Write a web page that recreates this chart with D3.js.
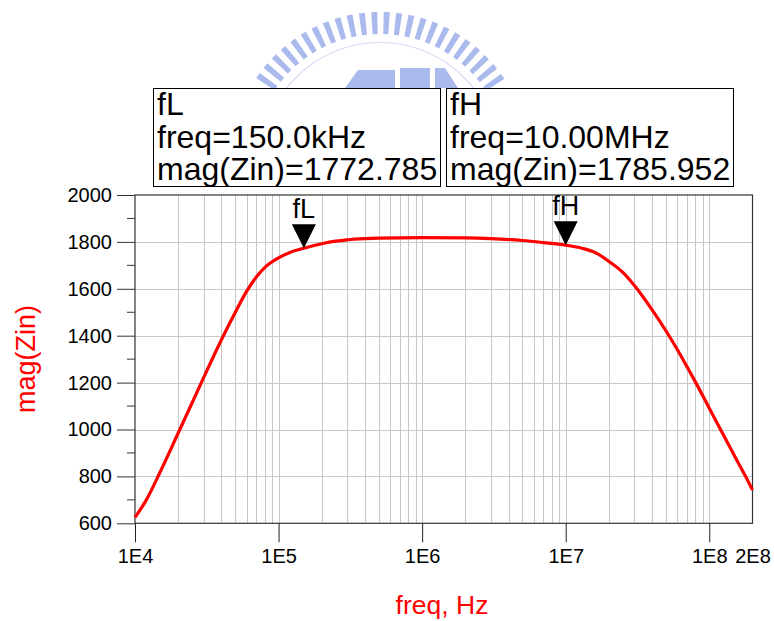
<!DOCTYPE html>
<html>
<head>
<meta charset="utf-8">
<script src="https://cdn.jsdelivr.net/npm/d3@7"></script>
<style>
  body { margin: 0; background: #fff; }
  svg { font-family: "Liberation Sans", Arial, sans-serif; }
</style>
</head>
<body>
<div id="chart"></div>
<script>
const width = 774;
const height = 621;

// curve
const freqs = [1e4, 1.2e4, 1.5e4, 2e4, 2.5e4, 3e4, 4e4, 5e4, 6e4, 7e4, 8e4, 1e5, 1.2e5, 1.5e5, 2e5, 2.5e5, 3e5, 4e5, 5e5,
	1e6, 2e6, 3e6, 5e6, 7e6, 1e7, 1.3e7, 1.6e7, 2e7, 2.5e7, 3e7, 4e7, 5e7, 6e7, 7e7, 8e7, 1e8, 1.2e8, 1.5e8, 1.8e8, 2e8];
const magZin = [625, 700, 820, 985, 1114, 1220, 1383, 1500, 1590, 1650, 1690, 1732, 1755, 1773, 1792, 1803, 1809, 1814, 1816,
	1818, 1817, 1814, 1806, 1797, 1786, 1773, 1755, 1717, 1670, 1615, 1510, 1420, 1340, 1267, 1203, 1091, 999, 887, 797, 742];

const yTicks = [600, 800, 1000, 1200, 1400, 1600, 1800, 2000];
const yMinor = [700, 900, 1100, 1300, 1500, 1700, 1900];
const xTicks = [1e4, 1e5, 1e6, 1e7, 1e8, 2e8];
const xTickLabels = ["1E4", "1E5", "1E6", "1E7", "1E8", "2E8"];

const markerNames = ["fL", "fH"];
const markerFreqs = [1.5e5, 1e7];
const markerValues = [1772.785, 1785.952];
const markerFreqText = ["150.0kHz", "10.00MHz"];

const plotLeft = 135, plotRight = 752.5, plotTop = 195, plotBottom = 523.3;

let x = d3.scaleLog().domain([1e4, 2e8]).range([plotLeft, plotRight]);
let y = d3.scaleLinear().domain([600, 2000]).range([plotBottom, plotTop]);

let svg = d3.select("#chart").append("svg")
	.attr("width", width)
	.attr("height", height);

// faint logo watermark at the top
let logo = svg.append("g").attr("opacity", 0.75);
let cx = 380, cy = 161, r = 149;
d3.range(-55, 56, 4.8).forEach(function (a){
	logo.append("path")
		.attr("d", "M-3," + (-r) + " L3," + (-r) + " L2.5," + (-r + 22) + " L-2.5," + (-r + 22) + "Z")
		.attr("fill", "#8ea4e6")
		.attr("transform", "translate(" + cx + "," + cy + ") rotate(" + a + ")");
});
logo.append("path")
	.attr("d", d3.arc()({innerRadius: r - 31, outerRadius: r - 30, startAngle: -0.95, endAngle: 0.95}))
	.attr("transform", "translate(" + cx + "," + cy + ")")
	.attr("fill", "#c4d0f2");
logo.append("path")
	.attr("d", "M345,88 L358,70 L395,70 L395,88 Z M400,68 L430,68 L430,88 L400,88 Z M435,68 L445,68 L458,88 L435,88 Z")
	.attr("fill", "#8ea4e6");

// grid
let grid = svg.append("g").attr("stroke", "#c8c8c8").attr("stroke-width", 1);
let gridX = [];
[1e4, 1e5, 1e6, 1e7, 1e8].forEach(function (d){
	d3.range(1, 10).forEach(function (k){
		if(d * k > 1e4 && d * k < 2e8) gridX.push(d * k);
	});
});
grid.selectAll(".gx").data(gridX).join("line")
	.attr("x1", d => Math.round(x(d)) + 0.5).attr("x2", d => Math.round(x(d)) + 0.5)
	.attr("y1", plotTop).attr("y2", plotBottom);
grid.selectAll(".gy").data(yTicks.slice(1, -1)).join("line")
	.attr("x1", plotLeft).attr("x2", plotRight)
	.attr("y1", d => Math.round(y(d)) + 0.5).attr("y2", d => Math.round(y(d)) + 0.5);

// frame
svg.append("rect")
	.attr("x", plotLeft).attr("y", plotTop)
	.attr("width", plotRight - plotLeft).attr("height", plotBottom - plotTop)
	.attr("fill", "none").attr("stroke", "#333").attr("stroke-width", 1.2);

// y axis
let yAxis = svg.append("g")
	.attr("transform", "translate(" + plotLeft + ",0)")
	.call(d3.axisLeft(y).tickValues(yTicks).tickSize(18).tickPadding(5).tickFormat(d3.format("d")));
yAxis.select(".domain").remove();
yAxis.selectAll("line").attr("stroke", "#333");
yAxis.selectAll("text").attr("font-size", 20).attr("fill", "#000")
	.attr("font-family", "Liberation Sans, Arial, sans-serif");
yAxis.selectAll(".minor").data(yMinor).join("line")
	.attr("class", "minor")
	.attr("x1", -8).attr("x2", 0)
	.attr("y1", d => y(d)).attr("y2", d => y(d))
	.attr("stroke", "#333");

// x axis
let xAxis = svg.append("g")
	.attr("transform", "translate(0," + plotBottom + ")")
	.call(d3.axisBottom(x).tickValues(xTicks).tickSize(19).tickPadding(7)
		.tickFormat((d, i) => xTickLabels[i]));
xAxis.select(".domain").remove();
xAxis.selectAll("line").attr("stroke", "#222").attr("opacity", (d, i) => i == xTicks.length - 1 ? 0 : 1);
xAxis.selectAll("text").attr("font-size", 20).attr("fill", "#000")
	.attr("font-family", "Liberation Sans, Arial, sans-serif");

// axis titles
svg.append("text")
	.attr("transform", "translate(35,359) rotate(-90)")
	.attr("text-anchor", "middle")
	.attr("font-size", 27)
	.attr("fill", "#ff0000")
	.text("mag(Zin)");
svg.append("text")
	.attr("x", 442).attr("y", 614)
	.attr("text-anchor", "middle")
	.attr("font-size", 26.5)
	.attr("fill", "#ff0000")
	.text("freq, Hz");

// the curve
let line = d3.line()
	.x(d => x(d[0]))
	.y(d => y(d[1]))
	.curve(d3.curveMonotoneX);
svg.append("path")
	.datum(freqs.map((f, i) => [f, magZin[i]]))
	.attr("d", line)
	.attr("fill", "none")
	.attr("stroke", "#ff0000")
	.attr("stroke-width", 3.2)
	.attr("stroke-linejoin", "round");

// markers
markerFreqs.forEach(function (f, i){
	let mx = x(f), my = y(markerValues[i]);
	svg.append("path")
		.attr("d", "M" + (mx - 12) + "," + (my - 24) + "L" + (mx + 12) + "," + (my - 24) + "L" + mx + "," + my + "Z")
		.attr("fill", "#000");
	svg.append("text")
		.attr("x", mx).attr("y", my - 30)
		.attr("text-anchor", "middle")
		.attr("font-size", 27)
		.text(markerNames[i]);
});

// readout boxes
const boxX = [153, 446];
const boxW = 287;
markerNames.forEach(function (name, i){
	let g = svg.append("g");
	g.append("rect")
		.attr("x", boxX[i] + 0.5).attr("y", 88.5)
		.attr("width", boxW).attr("height", 98)
		.attr("fill", "#fff").attr("stroke", "#000").attr("stroke-width", 1);
	let lines = [name, "freq=" + markerFreqText[i], "mag(Zin)=" + markerValues[i].toFixed(3)];
	g.selectAll("text").data(lines).join("text")
		.attr("x", boxX[i] + 4)
		.attr("y", (d, k) => 115 + k * 32.5)
		.attr("font-size", 32)
		.attr("fill", "#000")
		.text(d => d);
});
</script>
</body>
</html>
